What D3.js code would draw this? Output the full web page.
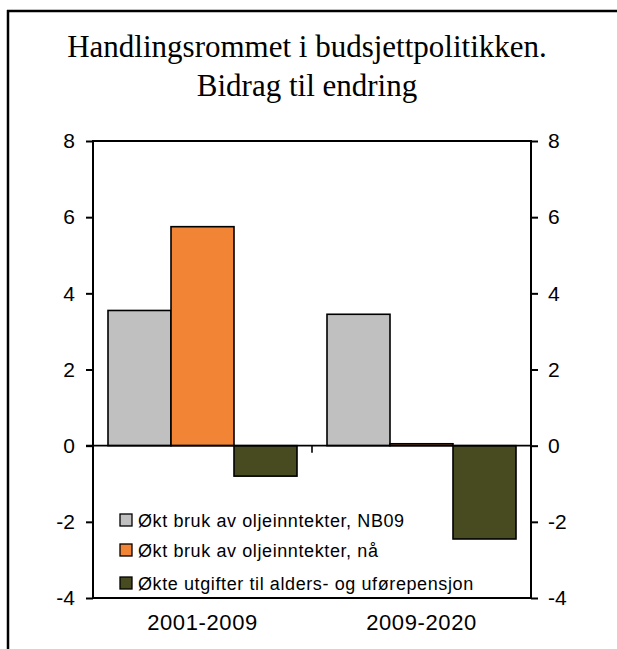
<!DOCTYPE html>
<html>
<head>
<meta charset="utf-8">
<script src="https://cdn.jsdelivr.net/npm/d3@7"></script>
<style>
  body { margin: 0; background: #fff; }
  svg { display: block; }
  .tick text { font-family: "Liberation Sans", Arial, sans-serif; }
</style>
</head>
<body>
<svg id="chart" width="617" height="649"></svg>
<script>
"use strict";

// data
var categories = ["2001-2009", "2009-2020"];
var seriesNames = [
  "Økt bruk av oljeinntekter, NB09",
  "Økt bruk av oljeinntekter, nå",
  "Økte utgifter til alders- og uførepensjon"
];
var seriesColors = ["#c0c0c0", "#f28535", "#474b1f"];
var nb09 = [3.55, 3.45];
var naa = [5.75, 0.05];
var pensjon = [-0.8, -2.45];
var yTicks = [-4, -2, 0, 2, 4, 6, 8];
var titleLines = ["Handlingsrommet i budsjettpolitikken.", "Bidrag til endring"];

var series = [nb09, naa, pensjon];

var svg = d3.select("#chart");
var plot = {left: 93, right: 531, top: 141, bottom: 598};

// frame around the whole figure (top and left only are visible)
svg.append("line")
  .attr("x1", 7).attr("y1", 11).attr("x2", 617).attr("y2", 11)
  .attr("stroke", "#000").attr("stroke-width", 2.5);
svg.append("line")
  .attr("x1", 8).attr("y1", 10).attr("x2", 8).attr("y2", 649)
  .attr("stroke", "#000").attr("stroke-width", 2.5);

// title
svg.append("g")
  .selectAll("text")
  .data(titleLines)
  .enter()
  .append("text")
  .attr("x", 307)
  .attr("y", function(d, i){ return 57 + i * 39; })
  .attr("text-anchor", "middle")
  .attr("font-family", "'Liberation Serif', 'Times New Roman', serif")
  .attr("font-size", 31)
  .text(function(d){ return d; });

var y = d3.scaleLinear().domain([-4, 8]).range([plot.bottom, plot.top]);
var x0 = d3.scaleBand().domain(categories).range([plot.left, plot.right])
  .paddingInner(0.137).paddingOuter(0.0685);
var x1 = d3.scaleBand().domain(d3.range(series.length)).range([0, x0.bandwidth()]);

// bars
var groups = svg.append("g")
  .selectAll("g")
  .data(categories)
  .enter()
  .append("g")
  .attr("transform", function(d){ return "translate(" + x0(d) + ",0)"; });

groups.selectAll("rect")
  .data(function(d, ci){ return series.map(function(s, si){ return {si: si, v: s[ci]}; }); })
  .enter()
  .append("rect")
  .attr("x", function(d){ return x1(d.si); })
  .attr("width", x1.bandwidth())
  .attr("y", function(d){ return y(Math.max(0, d.v)); })
  .attr("height", function(d){ return Math.abs(y(d.v) - y(0)); })
  .attr("fill", function(d){ return seriesColors[d.si]; })
  .attr("stroke", "#000")
  .attr("stroke-width", 1.6);

// plot box
svg.append("rect")
  .attr("x", plot.left).attr("y", plot.top)
  .attr("width", plot.right - plot.left).attr("height", plot.bottom - plot.top)
  .attr("fill", "none").attr("stroke", "#000").attr("stroke-width", 2);

// zero line and category divider tick
svg.append("line")
  .attr("x1", plot.left - 7).attr("x2", plot.right)
  .attr("y1", y(0)).attr("y2", y(0))
  .attr("stroke", "#000").attr("stroke-width", 1.6);
svg.append("line")
  .attr("x1", x0(categories[1]) - x0.step() * x0.paddingInner() / 2)
  .attr("x2", x0(categories[1]) - x0.step() * x0.paddingInner() / 2)
  .attr("y1", y(0)).attr("y2", y(0) + 7)
  .attr("stroke", "#000").attr("stroke-width", 1.6);

// y axes
var fmt = function(d){ return String(d); };
var leftAxis = d3.axisLeft(y).tickValues(yTicks).tickFormat(fmt).tickSize(7).tickPadding(11);
var rightAxis = d3.axisRight(y).tickValues(yTicks).tickFormat(fmt).tickSize(7).tickPadding(10);

function styleAxis(g){
  g.select(".domain").remove();
  g.selectAll(".tick line").attr("stroke", "#000").attr("stroke-width", 2);
  g.selectAll(".tick text").attr("font-size", 21).attr("fill", "#000");
}

svg.append("g").attr("transform", "translate(" + plot.left + ",0)").call(leftAxis).call(styleAxis);
svg.append("g").attr("transform", "translate(" + plot.right + ",0)").call(rightAxis).call(styleAxis);

// category labels
svg.append("g")
  .selectAll("text")
  .data(categories)
  .enter()
  .append("text")
  .attr("x", function(d){ return x0(d) + x0.bandwidth() / 2; })
  .attr("y", 630)
  .attr("text-anchor", "middle")
  .attr("font-family", "'Liberation Sans', Arial, sans-serif")
  .attr("font-size", 22)
  .attr("letter-spacing", 0.6)
  .text(function(d){ return d; });

// legend
var legend = svg.append("g")
  .selectAll("g")
  .data(seriesNames)
  .enter()
  .append("g")
  .attr("transform", function(d, i){ return "translate(120," + [520, 550, 583][i] + ")"; });

legend.append("rect")
  .attr("x", 0).attr("y", -6)
  .attr("width", 12).attr("height", 12)
  .attr("fill", function(d, i){ return seriesColors[i]; })
  .attr("stroke", "#000").attr("stroke-width", 1.3);

legend.append("text")
  .attr("x", 18).attr("y", 7)
  .attr("font-family", "'Liberation Sans', Arial, sans-serif")
  .attr("font-size", 18)
  .attr("letter-spacing", 0.6)
  .text(function(d){ return d; });
</script>
</body>
</html>
